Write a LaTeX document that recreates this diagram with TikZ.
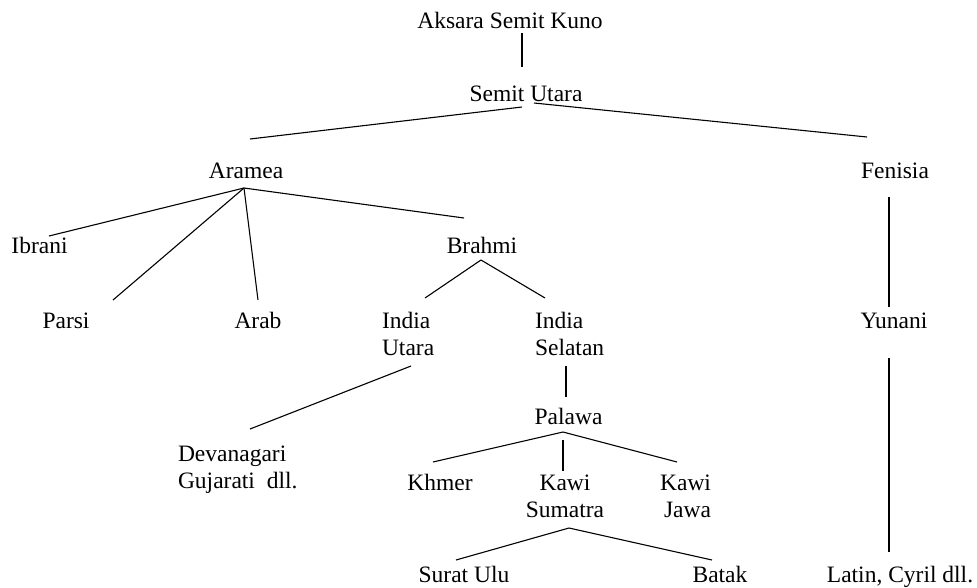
\documentclass[tikz,border=0pt]{standalone}
\usepackage{fontspec}
\setmainfont{Liberation Serif}
\newcommand\twoline[3]{\begin{tabular}[t]{@{}#1@{}}#2\\#3\end{tabular}}
\begin{document}
\begin{tikzpicture}[x=1pt,y=-1pt,
  lbl/.style={inner sep=0pt,outer sep=0pt,anchor=base,font=\fontsize{23.5}{27.5}\selectfont},
  link/.style={line width=1.1pt,black}]
\useasboundingbox (0,0) rectangle (977,587);
% nodes
\node[lbl] (ask) at (510,28) {Aksara Semit Kuno};
\node[lbl] (su) at (526,101) {Semit Utara};
\node[lbl] (aramea) at (246,178) {Aramea};
\node[lbl] (fenisia) at (895,178) {Fenisia};
\node[lbl] (ibrani) at (39.5,253) {Ibrani};
\node[lbl] (brahmi) at (482,253) {Brahmi};
\node[lbl] (parsi) at (66,328) {Parsi};
\node[lbl] (arab) at (258,328) {Arab};
\node[lbl,anchor=base west] (iu) at (382,328) {\twoline{l}{India}{Utara}};
\node[lbl,anchor=base west] (is) at (535,328) {\twoline{l}{India}{Selatan}};
\node[lbl] (yunani) at (894,328) {Yunani};
\node[lbl] (palawa) at (568.5,424) {Palawa};
\node[lbl,anchor=base west] (dev) at (178,461) {\twoline{l}{Devanagari}{Gujarati\ \ dll.}};
\node[lbl] (khmer) at (440,490) {Khmer};
\node[lbl] (ks) at (565,490) {\twoline{c}{Kawi}{Sumatra}};
\node[lbl,anchor=base east] (kj) at (711,490) {\twoline{r}{Kawi}{Jawa}};
\node[lbl] (surat) at (464,582) {Surat Ulu};
\node[lbl] (batak) at (720,582) {Batak};
\node[lbl] (latin) at (900,582) {Latin, Cyril dll.};
% connectors
\draw[link] ([shift={(12,5)}]ask.base) -- ([shift={(-4,-34)}]su.base);
\draw[link] ([shift={(-4,6)}]su.base) -- ([shift={(4,-39)}]aramea.base);
\draw[link] ([shift={(8,2)}]su.base) -- ([shift={(-28,-41)}]fenisia.base);
\draw[link] ([shift={(-2,10)}]aramea.base) -- ([shift={(9.5,-17)}]ibrani.base);
\draw[link] ([shift={(-2,10)}]aramea.base) -- ([shift={(47,-28)}]parsi.base);
\draw[link] ([shift={(-2,10)}]aramea.base) -- ([shift={(0,-28)}]arab.base);
\draw[link] ([shift={(-2,10)}]aramea.base) -- ([shift={(-18,-35)}]brahmi.base);
\draw[link] ([shift={(-1,7)}]brahmi.base) -- ([shift={(43,-30)}]iu.base west);
\draw[link] ([shift={(-1,7)}]brahmi.base) -- ([shift={(10,-30)}]is.base west);
\draw[link] ([shift={(-6,19)}]fenisia.base) -- ([shift={(-5,-21)}]yunani.base);
\draw[link] ([shift={(-5,30)}]yunani.base) -- ([shift={(-11,-30)}]latin.base);
\draw[link] ([shift={(29,38)}]iu.base west) -- ([shift={(72,-32)}]dev.base west);
\draw[link] ([shift={(31,38)}]is.base west) -- ([shift={(-2.5,-27)}]palawa.base);
\draw[link] ([shift={(-5.5,8)}]palawa.base) -- ([shift={(-7,-28)}]khmer.base);
\draw[link] ([shift={(-5.5,16)}]palawa.base) -- ([shift={(-2,-19)}]ks.base);
\draw[link] ([shift={(-5.5,8)}]palawa.base) -- ([shift={(-34,-28)}]kj.base east);
\draw[link] ([shift={(4,38)}]ks.base) -- ([shift={(-8,-22)}]surat.base);
\draw[link] ([shift={(4,38)}]ks.base) -- ([shift={(-8,-22)}]batak.base);
\end{tikzpicture}
\end{document}
